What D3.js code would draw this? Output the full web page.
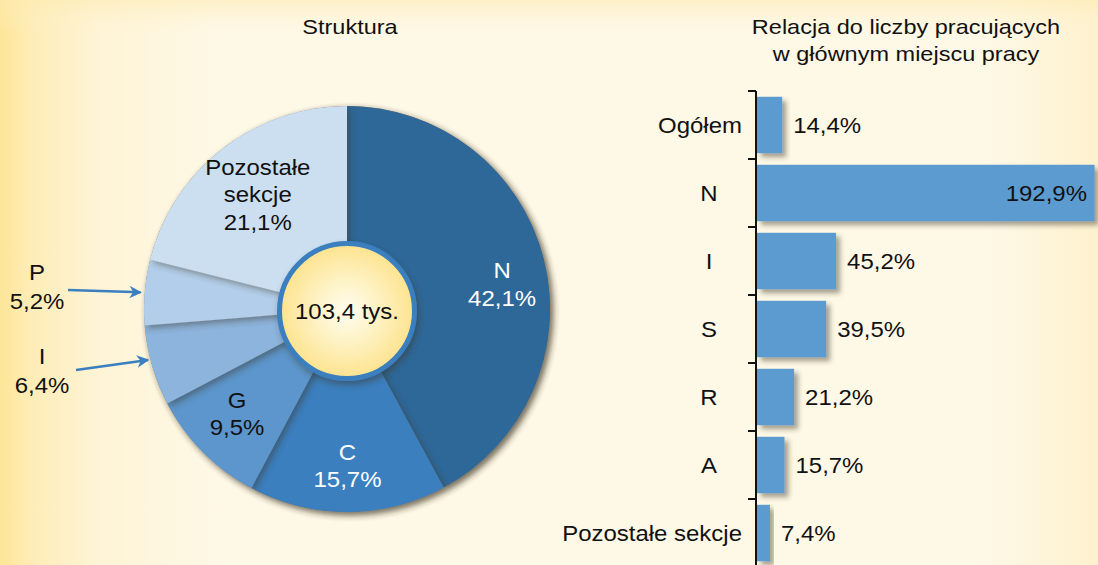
<!DOCTYPE html>
<html>
<head>
<meta charset="utf-8">
<script src="https://cdn.jsdelivr.net/npm/d3@7"></script>
<style>
html,body{margin:0;padding:0;background:#FEF8E6;}
svg{display:block;font-family:"Liberation Sans",Arial,sans-serif;}
</style>
</head>
<body>
<svg id="chart" width="1098" height="565"></svg>
<script>
// ---- data ----
const pieCategories = ["N", "C", "G", "I", "P", "Pozostałe sekcje"];
const pieValues = [42.1, 15.7, 9.5, 6.4, 5.2, 21.1];
const pieValueLabels = ["42,1%", "15,7%", "9,5%", "6,4%", "5,2%", "21,1%"];
const pieTotalLabel = "103,4 tys.";
const pieTitle = "Struktura";

const barCategories = ["Ogółem", "N", "I", "S", "R", "A", "Pozostałe sekcje"];
const barValues = [14.4, 192.9, 45.2, 39.5, 21.2, 15.7, 7.4];
const barValueLabels = ["14,4%", "192,9%", "45,2%", "39,5%", "21,2%", "15,7%", "7,4%"];
const barTitleLines = ["Relacja do liczby pracujących", "w głównym miejscu pracy"];

// ---- styles ----
const pieColors = ["#2D6899", "#3A7FBF", "#5B96CC", "#8DB4DD", "#B3CEEA", "#CCDFF0"];
const pieLabelColors = ["#fff", "#fff", "#111", "#111", "#111", "#111"];
const barColor = "#5B9BD0";
const FS = 22, SX = 1.09;

const svg = d3.select("#chart");
const W = 1098, H = 565;
const defs = svg.append("defs");

// text helper: horizontally widened text
function addText(parent, x, y, lines, opts = {}) {
  const lh = opts.lh || 28;
  const sx = opts.sx || SX;
  const g = parent.append("g").attr("transform", `translate(${x},${y}) scale(${sx},1)`);
  const t = g.append("text").attr("text-anchor", opts.anchor || "middle")
    .attr("font-size", opts.fs || FS).attr("fill", opts.fill || "#111");
  lines.forEach((s, k) => {
    t.append("tspan").attr("x", 0).attr("y", (k - (lines.length - 1) / 2) * lh)
      .attr("dominant-baseline", "central").text(s);
  });
  return t;
}

// background gradients
const bg = defs.append("linearGradient").attr("id", "bgH").attr("x1", "0").attr("x2", "1").attr("y1", "0").attr("y2", "0");
[[0, "#FDE598"], [0.03, "#FEEDB8"], [0.09, "#FEF4D6"], [0.2, "#FEF8E6"], [0.9, "#FEF8E6"], [1, "#FEF1CE"]]
  .forEach(([o, c]) => bg.append("stop").attr("offset", o).attr("stop-color", c));
const bgV = defs.append("linearGradient").attr("id", "bgV").attr("x1", "0").attr("x2", "0").attr("y1", "0").attr("y2", "1");
[[0, "#FDEBB0", 0.55], [0.06, "#FEF1CE", 0.0], [1, "#FEF8E6", 0]]
  .forEach(([o, c, a]) => bgV.append("stop").attr("offset", o).attr("stop-color", c).attr("stop-opacity", a));
svg.append("rect").attr("width", W).attr("height", H).attr("fill", "url(#bgH)");
svg.append("rect").attr("width", W).attr("height", H).attr("fill", "url(#bgV)");

// shadow filter
function shadow(id, dx, dy, blur, op) {
  const f = defs.append("filter").attr("id", id).attr("x", "-20%").attr("y", "-20%").attr("width", "150%").attr("height", "150%");
  f.append("feDropShadow").attr("dx", dx).attr("dy", dy).attr("stdDeviation", blur)
    .attr("flood-color", "#3a3320").attr("flood-opacity", op);
}
shadow("sliceShadow", 3, 3, 3, 0.45);
shadow("barShadow", 4, 4, 2.5, 0.45);
shadow("circShadow", 2, 4, 3, 0.45);

// ---- pie ----
const cx = 347, cy = 309, R = 203;
const pieG = svg.append("g").attr("transform", `translate(${cx},${cy})`);
const pie = d3.pie().sort(null).value(d => d)(pieValues);
const arc = d3.arc().innerRadius(0).outerRadius(R);

pieG.append("circle").attr("r", R).attr("fill", "#8a8270").attr("filter", "url(#sliceShadow)");

pieG.selectAll("path.slice").data(pie).join("path")
  .attr("class", "slice")
  .attr("d", arc)
  .attr("fill", (d, i) => pieColors[i])
  .attr("filter", "url(#sliceShadow)");

// inner circle
const rg = defs.append("radialGradient").attr("id", "inner").attr("cx", "50%").attr("cy", "50%").attr("r", "50%");
[[0, "#FFFCF0"], [0.45, "#FEF3C6"], [1, "#FDE38E"]].forEach(([o, c]) => rg.append("stop").attr("offset", o).attr("stop-color", c));
pieG.append("circle").attr("r", 67.5).attr("cy", 2)
  .attr("fill", "url(#inner)").attr("stroke", "#3A7FBF").attr("stroke-width", 5)
  .attr("filter", "url(#circShadow)");
addText(pieG, 0, 2, [pieTotalLabel]);

// inside labels
const labelRadius = [157, 157, 152, 0, 0, 145];
const labelAngleShift = [0.09, 0, 0.02, 0, 0, 0];
const insideLines = [["N"], ["C"], ["G"], null, null, ["Pozostałe", "sekcje"]];
pie.forEach((d, i) => {
  if (!insideLines[i]) return;
  const a = (d.startAngle + d.endAngle) / 2 + labelAngleShift[i];
  const x = labelRadius[i] * Math.sin(a), y = -labelRadius[i] * Math.cos(a);
  addText(pieG, x, y, insideLines[i].concat([pieValueLabels[i]]), { fill: pieLabelColors[i], lh: 27.5 });
});

// outside labels with arrows (I, P)
defs.append("marker").attr("id", "arrowHead").attr("viewBox", "0 0 10 10").attr("refX", 9).attr("refY", 5)
  .attr("markerWidth", 5).attr("markerHeight", 5).attr("orient", "auto")
  .append("path").attr("d", "M0,0 L10,5 L0,10 L3,5 Z").attr("fill", "#3A7FBF");
const outside = [
  { i: 4, tx: 37, ty: 287, sx: 68, sy: 290 },
  { i: 3, tx: 42, ty: 371, sx: 76, sy: 370 }
];
outside.forEach(o => {
  const d = pie[o.i];
  const a = (d.startAngle + d.endAngle) / 2;
  const ex = cx + (R + 1) * Math.sin(a), ey = cy - (R + 1) * Math.cos(a) - (o.i === 3 ? 6 : 0);
  svg.append("line").attr("x1", o.sx).attr("y1", o.sy).attr("x2", ex - 3).attr("y2", ey)
    .attr("stroke", "#3A7FBF").attr("stroke-width", 2.5).attr("marker-end", "url(#arrowHead)");
  addText(svg, o.tx, o.ty, [pieCategories[o.i], pieValueLabels[o.i]], { lh: 29 });
});

addText(svg, 350, 27, [pieTitle], { fs: 21, sx: 1.12 });

// ---- bars ----
const axisX = 756;
const x = d3.scaleLinear().domain([0, 100]).range([axisX + 1, axisX + 1 + 175]);
const step = 68;
const y = d3.scaleBand().domain(barCategories).range([91, 91 + step * barCategories.length]).paddingInner(0.17).paddingOuter(0.085);

svg.append("g").selectAll("rect.bar").data(barValues).join("rect")
  .attr("class", "bar")
  .attr("x", x(0))
  .attr("y", (d, i) => y(barCategories[i]))
  .attr("width", d => x(d) - x(0))
  .attr("height", y.bandwidth())
  .attr("fill", barColor)
  .attr("filter", "url(#barShadow)");

// axis
const axisG = svg.append("g");
axisG.append("line").attr("x1", axisX).attr("x2", axisX).attr("y1", 91).attr("y2", H + 5).attr("stroke", "#111").attr("stroke-width", 2);
d3.range(barCategories.length + 1).forEach(k => {
  const yy = 91 + k * step;
  axisG.append("line").attr("x1", axisX - 8).attr("x2", axisX).attr("y1", yy).attr("y2", yy).attr("stroke", "#111").attr("stroke-width", 2);
});

// category labels
barCategories.forEach((c, i) => {
  const yy = y(c) + y.bandwidth() / 2;
  const t = addText(svg, 709, yy, [c]);
  const w = t.node().getComputedTextLength() * SX;
  if (709 + w / 2 > 742) {
    t.attr("text-anchor", "end");
    d3.select(t.node().parentNode).attr("transform", `translate(742,${yy}) scale(${SX},1)`);
  }
});

// value labels
barValues.forEach((v, i) => {
  const yy = y(barCategories[i]) + y.bandwidth() / 2;
  const inside = x(v) > W - 60;
  addText(svg, inside ? W - 11 : x(v) + 11, yy, [barValueLabels[i]], { anchor: inside ? "end" : "start" });
});

addText(svg, 906, 40, barTitleLines, { fs: 21, sx: 1.12, lh: 27 });
</script>
</body>
</html>
